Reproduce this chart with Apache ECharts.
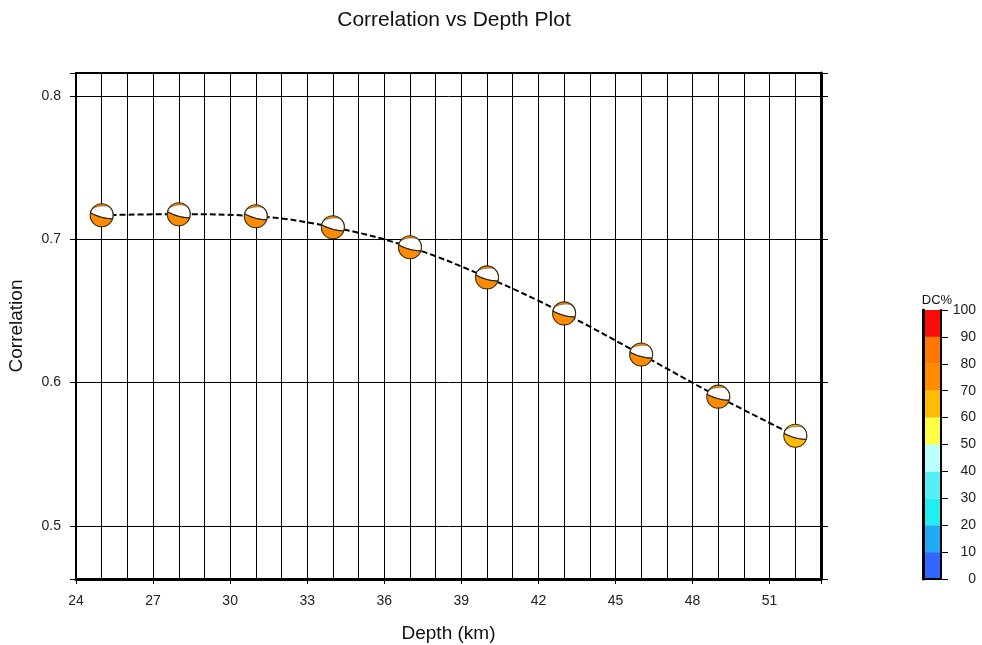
<!DOCTYPE html>
<html>
<head>
<meta charset="utf-8">
<script src="https://cdn.jsdelivr.net/npm/echarts@6/dist/echarts.min.js"></script>
<style>html,body{margin:0;padding:0;background:#fff;}#chart{width:982px;height:645px;}</style>
</head>
<body>
<div id="chart"></div>
<script>
// ---- data ----
const depths = [25, 28, 31, 34, 37, 40, 43, 46, 49, 52];
const correlation = [0.7168, 0.7175, 0.7161, 0.7084, 0.6944, 0.6734, 0.6483, 0.6196, 0.5902, 0.5629];
const dcPercent = [78, 78, 78, 78, 78, 78, 78, 78, 76, 65];
const dcLevels = [0, 10, 20, 30, 40, 50, 60, 70, 80, 90, 100];
const dcColors = ['#3366ff', '#22aaf5', '#22eef0', '#55eef5', '#bbffff', '#ffff44', '#ffbb00', '#ff8c00', '#ff7700', '#ff0a0a'];
const xTicks = [24, 27, 30, 33, 36, 39, 42, 45, 48, 51];
const yTicks = [0.5, 0.6, 0.7, 0.8];

function dcColor(v) {
  for (let i = 0; i < dcColors.length; i++) {
    if (v >= dcLevels[i] && v < dcLevels[i + 1]) return dcColors[i];
  }
  return dcColors[dcColors.length - 1];
}

// beachball geometry in unit circle (y up)
function quad(p0, c, p1, n) {
  const pts = [];
  for (let i = 0; i <= n; i++) {
    const t = i / n, a = (1 - t) * (1 - t), b = 2 * (1 - t) * t, d = t * t;
    pts.push([a * p0[0] + b * c[0] + d * p1[0], a * p0[1] + b * c[1] + d * p1[1]]);
  }
  return pts;
}
function arc(a0, a1, n) {
  const pts = [];
  for (let i = 0; i <= n; i++) {
    const a = (a0 + (a1 - a0) * i / n) * Math.PI / 180;
    pts.push([Math.cos(a), Math.sin(a)]);
  }
  return pts;
}
function unit(a) { return [Math.cos(a * Math.PI / 180), Math.sin(a * Math.PI / 180)]; }
const angL = 168, angR = -18, angUR = 45, angUL = 145;
const lowerEdge = quad(unit(angL), [0, -0.3], unit(angR), 16);
const whiteShape = []
  .concat(lowerEdge)
  .concat(arc(angR, angUR, 10))
  .concat(quad(unit(angUR), [0.05, 0.98], unit(angUL), 16))
  .concat(arc(angUL, angL, 4));

function renderBall(params, api) {
  const p = api.coord([api.value(0), api.value(1)]);
  const color = dcColor(api.value(2));
  const r = 11.5;
  const tr = q => [p[0] + q[0] * r, p[1] - q[1] * r];
  return {
    type: 'group',
    children: [
      { type: 'circle', shape: { cx: p[0], cy: p[1], r: r }, style: { fill: color, stroke: null } },
      { type: 'polygon', shape: { points: whiteShape.map(tr) }, style: { fill: '#ffffff', stroke: '#6a4a20', lineWidth: 0.7 } },
      { type: 'polyline', shape: { points: lowerEdge.map(tr) }, style: { fill: null, stroke: '#222', lineWidth: 1.2 } },
      { type: 'circle', shape: { cx: p[0], cy: p[1], r: r }, style: { fill: null, stroke: '#3a2a10', lineWidth: 1.1 } }
    ]
  };
}

const fontFam = '"Liberation Sans", Arial, sans-serif';
const xMin = 24, xMax = 53, yMin = 0.463, yMax = 0.816;

const isTick = (v, arr) => arr.some(t => Math.abs(t - v) < 1e-6);

const barSeries = dcColors.map((c, i) => ({
  type: 'bar',
  xAxisIndex: 1,
  yAxisIndex: 2,
  stack: 'dc',
  barWidth: '100%',
  silent: true,
  data: [dcLevels[i + 1] - dcLevels[i]],
  itemStyle: { color: c }
}));

const chart = echarts.init(document.getElementById('chart'), null, { renderer: 'canvas' });
chart.setOption({
  animation: false,
  backgroundColor: '#ffffff',
  textStyle: { fontFamily: fontFam },
  title: [
    { text: 'Correlation vs Depth Plot', left: 449, top: 5, textAlign: 'center',
      textStyle: { fontFamily: fontFam, fontSize: 21, fontWeight: 'normal', color: '#111' } },
    { text: 'DC%', left: 932, top: 289, textAlign: 'center',
      textStyle: { fontFamily: fontFam, fontSize: 13, fontWeight: 'normal', color: '#111' } }
  ],
  grid: [
    { left: 76, top: 73, right: 161, bottom: 66, show: true, borderColor: '#000', borderWidth: 2,
      containLabel: false, outerBoundsMode: 'none' },
    { left: 923, top: 310, width: 18, height: 269, containLabel: false, outerBoundsMode: 'none' }
  ],
  xAxis: [
    {
      type: 'value', gridIndex: 0, min: xMin, max: xMax, interval: 3,
      name: 'Depth (km)', nameLocation: 'middle', nameGap: 45,
      nameTextStyle: { fontFamily: fontFam, fontSize: 19, color: '#111' },
      axisLine: { show: true, lineStyle: { color: '#000', width: 3 } },
      axisTick: { show: true, length: 5, lineStyle: { color: '#000', width: 1 } },
      axisLabel: { margin: 15, fontSize: 14, color: '#222', fontFamily: fontFam,
        formatter: v => isTick(v, xTicks) ? String(v) : '' },
      splitLine: { show: true, lineStyle: { color: '#000', width: 1 } },
      minorTick: { show: false, splitNumber: 3 },
      minorSplitLine: { show: true, lineStyle: { color: '#000', width: 1 } },
      z: 5
    },
    {
      type: 'category', gridIndex: 1, data: ['DC'], position: 'bottom',
      axisLine: { show: true, lineStyle: { color: '#000', width: 2 } },
      axisTick: { show: false }, axisLabel: { show: false }, splitLine: { show: false }, z: 10
    },
    {
      type: 'category', gridIndex: 1, data: ['DC'], position: 'top',
      axisLine: { show: true, lineStyle: { color: '#000', width: 2 } },
      axisTick: { show: false }, axisLabel: { show: false }, splitLine: { show: false }, z: 10
    }
  ],
  yAxis: [
    {
      type: 'value', gridIndex: 0, min: yMin, max: yMax, splitNumber: 3, minInterval: 0.1, maxInterval: 0.1,
      position: 'left',
      name: 'Correlation', nameLocation: 'middle', nameGap: 50, nameRotate: 90,
      nameTextStyle: { fontFamily: fontFam, fontSize: 19, color: '#111' },
      axisLine: { show: true, lineStyle: { color: '#000', width: 2 } },
      axisTick: { show: true, length: 6, lineStyle: { color: '#000', width: 1 } },
      axisLabel: { margin: 15, fontSize: 14, color: '#222', fontFamily: fontFam,
        formatter: v => isTick(v, yTicks) ? v.toFixed(1) : '' },
      splitLine: { show: true, lineStyle: { color: '#000', width: 1 } },
      z: 5
    },
    {
      type: 'value', gridIndex: 0, min: yMin, max: yMax, splitNumber: 3, minInterval: 0.1, maxInterval: 0.1,
      position: 'right',
      axisLine: { show: true, lineStyle: { color: '#000', width: 3 } },
      axisTick: { show: true, length: 7, lineStyle: { color: '#000', width: 1 } },
      axisLabel: { show: false },
      splitLine: { show: false },
      z: 5
    },
    {
      type: 'value', gridIndex: 1, min: 0, max: 100, interval: 10, position: 'left',
      axisLine: { show: true, lineStyle: { color: '#000', width: 3 } },
      axisTick: { show: false }, axisLabel: { show: false }, splitLine: { show: false }, z: 10
    },
    {
      type: 'value', gridIndex: 1, min: 0, max: 100, interval: 10, position: 'right',
      axisLine: { show: true, lineStyle: { color: '#000', width: 2 } },
      axisTick: { show: true, length: 7, lineStyle: { color: '#000', width: 1 } },
      axisLabel: { margin: 35, align: 'right', fontSize: 14, color: '#222', fontFamily: fontFam },
      splitLine: { show: false }, z: 10
    }
  ],
  series: [
    {
      type: 'line', xAxisIndex: 0, yAxisIndex: 0, smooth: 0.4, showSymbol: false, symbol: 'none',
      data: depths.map((d, i) => [d, correlation[i]]),
      lineStyle: { color: '#000', width: 2, type: [6, 3] },
      z: 6
    },
    {
      type: 'custom', xAxisIndex: 0, yAxisIndex: 0,
      renderItem: renderBall,
      data: depths.map((d, i) => [d, correlation[i], dcPercent[i]]),
      z: 8
    }
  ].concat(barSeries)
});
</script>
</body>
</html>
